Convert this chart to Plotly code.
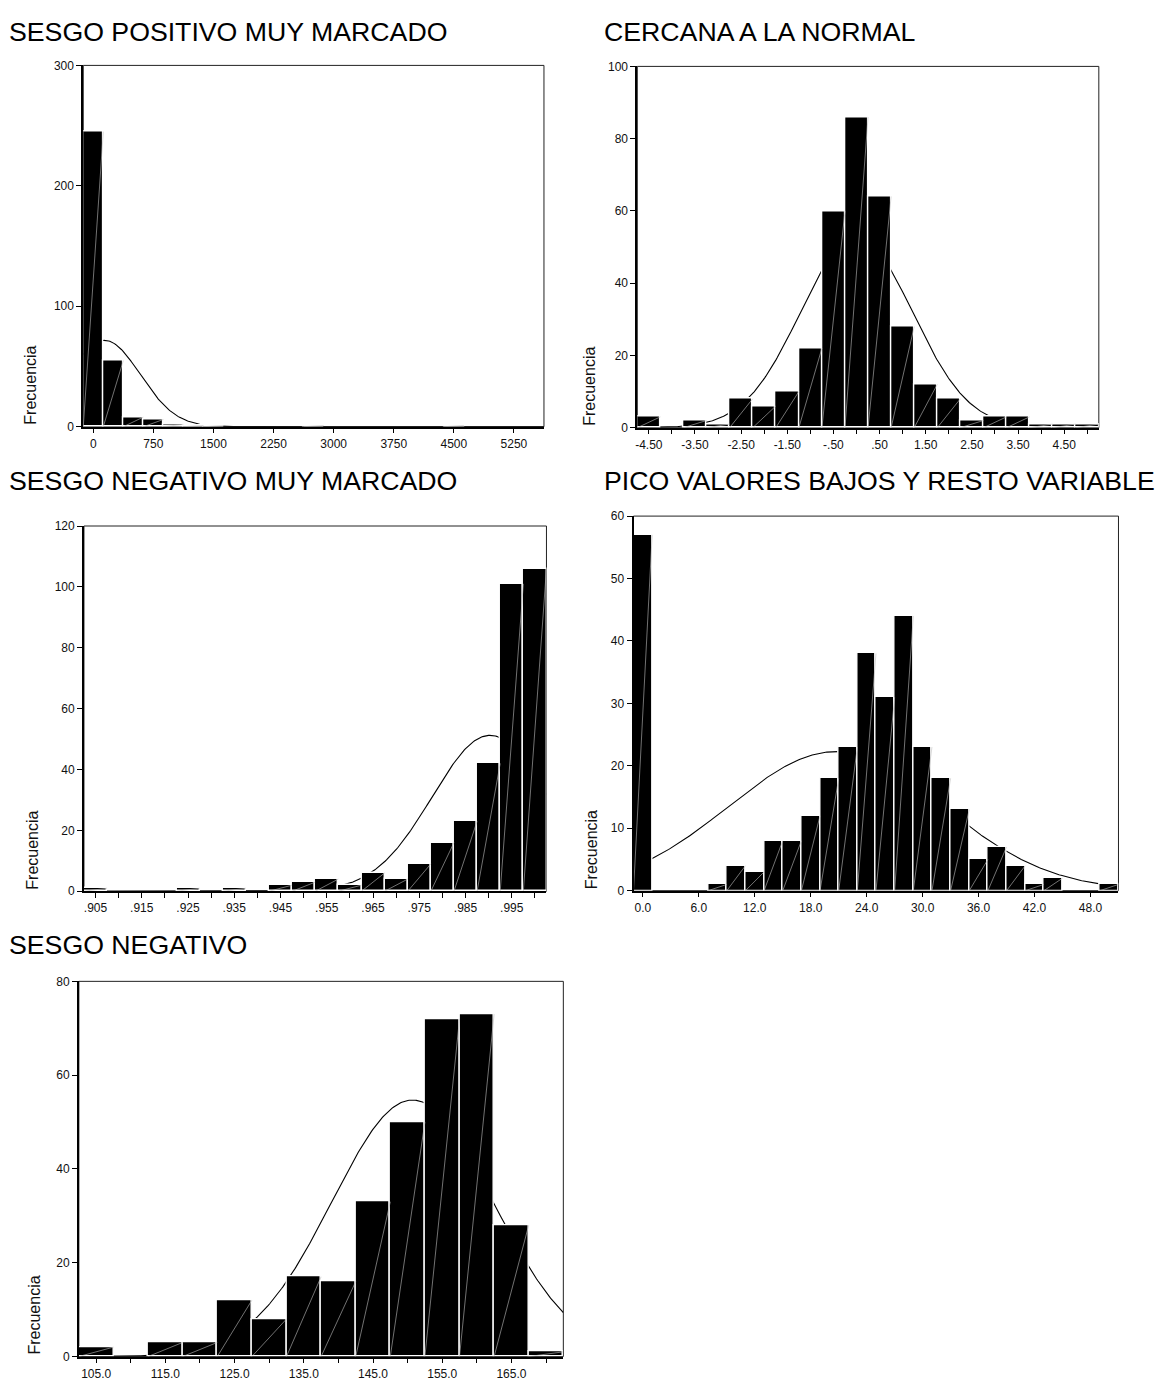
import numpy as np
import plotly.graph_objects as go

W, H = 1165, 1385

# ---------------- data ----------------
titles = ["SESGO POSITIVO MUY MARCADO", "CERCANA A LA NORMAL",
          "SESGO NEGATIVO MUY MARCADO", "PICO VALORES BAJOS Y RESTO VARIABLE",
          "SESGO NEGATIVO"]
y_title = "Frecuencia"

# Panel 1
p1_centers = [0, 250, 500, 750, 1000, 1250, 1500, 1750, 2000, 2250, 2500, 2750,
              3000, 3250, 3500, 3750, 4000, 4250, 4500, 4750, 5000, 5250, 5500]
p1_counts = [245, 55, 8, 6, 2, 1, 1, 0, 0, 0, 0, 1, 0, 0, 0, 0, 0, 0, 1, 0, 0, 0, 0]
p1_normal = [140, 445, 320, 250]          # mean, sd, n, bin width
p1_xticks = [0, 750, 1500, 2250, 3000, 3750, 4500, 5250]
p1_xlabels = ["0", "750", "1500", "2250", "3000", "3750", "4500", "5250"]
p1_xminor = []
p1_yticks = [0, 100, 200, 300]

# Panel 2
p2_centers = [-4.5, -4.0, -3.5, -3.0, -2.5, -2.0, -1.5, -1.0, -0.5, 0.0,
              0.5, 1.0, 1.5, 2.0, 2.5, 3.0, 3.5, 4.0, 4.5, 5.0]
p2_counts = [3, 0, 2, 1, 8, 6, 10, 22, 60, 86, 64, 28, 12, 8, 2, 3, 3, 1, 1, 1]
p2_normal = [0.0, 1.215, 321, 0.5]
p2_xticks = [-4.5, -3.5, -2.5, -1.5, -0.5, 0.5, 1.5, 2.5, 3.5, 4.5]
p2_xlabels = ["-4.50", "-3.50", "-2.50", "-1.50", "-.50", ".50", "1.50", "2.50", "3.50", "4.50"]
p2_xminor = [-4.0, -3.0, -2.0, -1.0, 0.0, 1.0, 2.0, 3.0, 4.0, 5.0]
p2_yticks = [0, 20, 40, 60, 80, 100]

# Panel 3
p3_centers = [0.905, 0.910, 0.915, 0.920, 0.925, 0.930, 0.935, 0.940, 0.945, 0.950,
              0.955, 0.960, 0.965, 0.970, 0.975, 0.980, 0.985, 0.990, 0.995, 1.000]
p3_counts = [1, 0, 0, 0, 1, 0, 1, 0, 2, 3, 4, 2, 6, 4, 9, 16, 23, 42, 101, 106]
p3_normal = [0.9903, 0.0125, 321, 0.005]
p3_xticks = [0.905, 0.915, 0.925, 0.935, 0.945, 0.955, 0.965, 0.975, 0.985, 0.995]
p3_xlabels = [".905", ".915", ".925", ".935", ".945", ".955", ".965", ".975", ".985", ".995"]
p3_xminor = [0.910, 0.920, 0.930, 0.940, 0.950, 0.960, 0.970, 0.980, 0.990, 1.000]
p3_yticks = [0, 20, 40, 60, 80, 100, 120]

# Panel 4
p4_centers = [0, 2, 4, 6, 8, 10, 12, 14, 16, 18, 20, 22, 24, 26, 28, 30,
              32, 34, 36, 38, 40, 42, 44, 46, 48, 50]
p4_counts = [57, 0, 0, 0, 1, 4, 3, 8, 8, 12, 18, 23, 38, 31, 44, 23,
             18, 13, 5, 7, 4, 1, 2, 0, 0, 1]
p4_normal = [20.7, 11.5, 321, 2]
p4_xticks = [0, 6, 12, 18, 24, 30, 36, 42, 48]
p4_xlabels = ["0.0", "6.0", "12.0", "18.0", "24.0", "30.0", "36.0", "42.0", "48.0"]
p4_xminor = []
p4_yticks = [0, 10, 20, 30, 40, 50, 60]

# Panel 5
p5_centers = [105, 110, 115, 120, 125, 130, 135, 140, 145, 150, 155, 160, 165, 170]
p5_counts = [2, 0, 3, 3, 12, 8, 17, 16, 33, 50, 72, 73, 28, 1]
p5_normal = [150.7, 11.6, 318, 5]
p5_xticks = [105, 115, 125, 135, 145, 155, 165]
p5_xlabels = ["105.0", "115.0", "125.0", "135.0", "145.0", "155.0", "165.0"]
p5_xminor = [110, 120, 130, 140, 150, 160, 170]
p5_yticks = [0, 20, 40, 60, 80]

# ---------------- layout geometry (pixels) ----------------
panels = [
    dict(c=p1_centers, h=p1_counts, nrm=p1_normal, xt=p1_xticks, xl=p1_xlabels, xm=p1_xminor,
         yt=p1_yticks, xr=[-125, 5625], yr=[0, 300],
         box=[81.4, 542.9, 59, 424], tpos=[5, 25], ytx=28.5),
    dict(c=p2_centers, h=p2_counts, nrm=p2_normal, xt=p2_xticks, xl=p2_xlabels, xm=p2_xminor,
         yt=p2_yticks, xr=[-4.75, 5.25], yr=[0, 100],
         box=[636.4, 1098.7, 60, 425], tpos=[601, 25], ytx=588.6),
    dict(c=p3_centers, h=p3_counts, nrm=p3_normal, xt=p3_xticks, xl=p3_xlabels, xm=p3_xminor,
         yt=p3_yticks, xr=[0.9025, 1.0025], yr=[0, 120],
         box=[82.1, 545.4, 524.3, 893.3], tpos=[5, 479], ytx=31),
    dict(c=p4_centers, h=p4_counts, nrm=p4_normal, xt=p4_xticks, xl=p4_xlabels, xm=p4_xminor,
         yt=p4_yticks, xr=[-1, 51], yr=[0, 60],
         box=[632.6, 1118.4, 514.3, 892.7], tpos=[601, 479], ytx=590),
    dict(c=p5_centers, h=p5_counts, nrm=p5_normal, xt=p5_xticks, xl=p5_xlabels, xm=p5_xminor,
         yt=p5_yticks, xr=[102.5, 172.5], yr=[0, 80],
         box=[77, 562.3, 984.3, 1363.3], tpos=[5, 948], ytx=31.6),
]

FONT = "Liberation Sans, Arial, sans-serif"

fig = go.Figure()
layout = dict(width=W, height=H, margin=dict(l=0, r=0, t=0, b=0),
              paper_bgcolor="white", plot_bgcolor="rgba(0,0,0,0)",
              showlegend=False, bargap=0, font=dict(family=FONT, color="#111"))
annotations = []
shapes = []

for i, p in enumerate(panels):
    bx = 2 * i + 1      # base axes (curve, frame, ticks)
    ox = 2 * i + 2      # overlay axes (bars drawn above the curve)
    xb, yb = f"x{bx}", f"y{bx}"
    xo, yo = f"x{ox}", f"y{ox}"
    l, r, t, b = p["box"]
    xd = [l / W, r / W]
    yd = [1 - b / H, 1 - t / H]

    # fitted normal curve (mean, sd, n, bin width)
    m, sd, n, w = p["nrm"]
    xs = np.linspace(p["xr"][0], p["xr"][1], 400)
    ys = n * w / (sd * np.sqrt(2 * np.pi)) * np.exp(-0.5 * ((xs - m) / sd) ** 2)
    fig.add_trace(go.Scatter(x=xs, y=ys, mode="lines", line=dict(color="black", width=1.1),
                             xaxis=xb, yaxis=yb, hoverinfo="skip"))

    # bars
    hv = [v if v > 0 else None for v in p["h"]]
    fig.add_trace(go.Bar(x=p["c"], y=hv, width=w, marker=dict(color="black",
                         line=dict(color="white", width=1.4)),
                         xaxis=xo, yaxis=yo, hoverinfo="skip"))
    # faint diagonal inside each bar
    dx, dy = [], []
    for c, v in zip(p["c"], p["h"]):
        if v > 0:
            dx += [c - w / 2, c + w / 2, None]
            dy += [0, v, None]
    fig.add_trace(go.Scatter(x=dx, y=dy, mode="lines",
                             line=dict(color="rgba(190,190,190,0.85)", width=0.7),
                             xaxis=xo, yaxis=yo, hoverinfo="skip"))

    xkey = "xaxis" if bx == 1 else f"xaxis{bx}"
    ykey = "yaxis" if bx == 1 else f"yaxis{bx}"
    xa = dict(domain=xd, range=p["xr"], anchor=yb, showgrid=False, zeroline=False,
              showline=True, linecolor="black", linewidth=1.5, mirror=False,
              ticks="outside", ticklen=5, tickcolor="black", tickwidth=1,
              tickmode="array", tickvals=p["xt"], ticktext=p["xl"],
              tickfont=dict(size=12, family=FONT, color="#111"))
    if p["xm"]:
        xa["minor"] = dict(tickvals=p["xm"], ticks="outside", ticklen=5,
                           tickcolor="black", tickwidth=1)
    layout[xkey] = xa
    layout[ykey] = dict(domain=yd, range=p["yr"], anchor=xb, showgrid=False, zeroline=False,
                        showline=True, linecolor="black", linewidth=1.8, mirror=False,
                        ticks="outside", ticklen=5, tickcolor="black", tickwidth=1,
                        tickmode="array", tickvals=p["yt"],
                        tickfont=dict(size=12, family=FONT, color="#111"))
    layout[f"xaxis{ox}"] = dict(overlaying=xb, range=p["xr"], visible=False, anchor=yo)
    layout[f"yaxis{ox}"] = dict(overlaying=yb, range=p["yr"], visible=False, anchor=xo)

    # thin frame (top / right)
    shapes.append(dict(type="rect", xref="paper", yref="paper", x0=xd[0], x1=xd[1],
                       y0=yd[0], y1=yd[1], line=dict(color="#222", width=1), layer="below"))

    # title
    annotations.append(dict(text=titles[i], x=p["tpos"][0] / W, y=1 - p["tpos"][1] / H,
                            xref="paper", yref="paper", xanchor="left", yanchor="middle",
                            showarrow=False, font=dict(size=26.7, family=FONT, color="black")))
    # y-axis title
    annotations.append(dict(text=y_title, x=p["ytx"] / W, y=1 - b / H,
                            xref="paper", yref="paper", xanchor="center", yanchor="bottom",
                            textangle=-90, showarrow=False,
                            font=dict(size=16, family=FONT, color="#111")))

layout["annotations"] = annotations
layout["shapes"] = shapes
fig.update_layout(**layout)
fig.write_html("out.html")
